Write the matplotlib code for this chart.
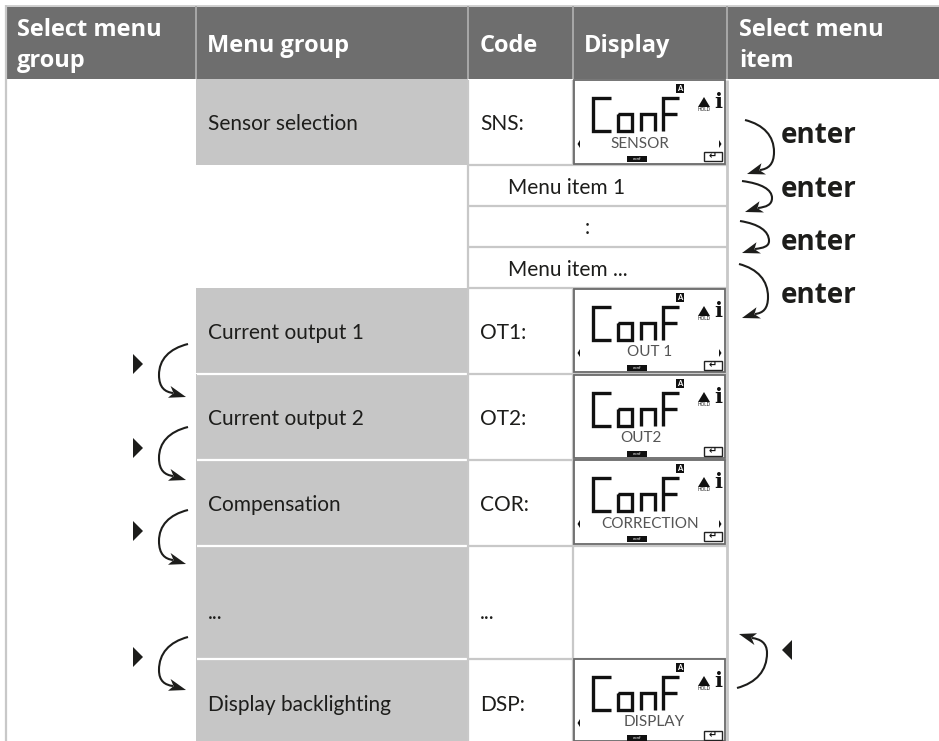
import matplotlib
matplotlib.use('Agg')
import matplotlib.pyplot as plt
from matplotlib.patches import Rectangle, Polygon, PathPatch
from matplotlib.path import Path
import numpy as np

# table content
headers = [(['Select menu', 'group'], 17), (['Menu group'], 207), (['Code'], 480), (['Display'], 584), (['Select menu', 'item'], 739)]
group_names = ['Sensor selection', 'Current output 1', 'Current output 2', 'Compensation', '...', 'Display backlighting']
group_codes = ['SNS:', 'OT1:', 'OT2:', 'COR:', '...', 'DSP:']
display_texts = ['SENSOR', 'OUT 1', 'OUT2', 'CORRECTION', None, 'DISPLAY']
display_arrows = [(True, True), (True, True), (False, False), (True, True), None, (True, False)]
menu_items = ['Menu item 1', ':', 'Menu item ...']

# row edges in pixels
group_tops = [80, 289, 375, 460, 546, 659]
group_bottoms = [165, 373, 459, 545, 658, 745]
label_base = [130, 339, 425, 511, 619, 711]
display_text_x = [640, 650, 641, 650, None, 654]
item_base = [194, 234, 276]
enter_base = [143, 197, 250, 303]

DARK = '#6e6e6e'
GROUP = '#c6c6c6'
LINE = '#c8c8c8'
INK = '#1d1d1b'

fig = plt.figure(figsize=(9.39, 7.41), dpi=100)
ax = fig.add_axes([0, 0, 1, 1])
ax.set_xlim(0, 939)
ax.set_ylim(741, 0)
ax.axis('off')
plt.rcParams['font.family'] = ['Lato', 'DejaVu Sans']


def vline(x, y0, y1, c=LINE, w=1.6):
    ax.plot([x, x], [y0, y1], color=c, lw=w, solid_capstyle='butt', zorder=3)


def hline(y, x0, x1, c=LINE, w=1.6):
    ax.plot([x0, x1], [y, y], color=c, lw=w, solid_capstyle='butt', zorder=3)


def curved_arrow(start, bulge, tip):
    # curve bends through the bulge point, head is drawn on the end
    start, bulge, tip = np.array(start, float), np.array(bulge, float), np.array(tip, float)
    side = np.sign(bulge[0] - start[0])
    down = np.sign(tip[1] - bulge[1])
    tail_end = tip + np.array([side * 13, -4 * down])
    up_len = start[1] - bulge[1]
    low_len = tail_end[1] - bulge[1]
    verts = [start, start + np.array([(bulge[0] - start[0]) * 0.65, -up_len * 0.15]),
             bulge + np.array([0, up_len * 0.5]), bulge,
             bulge + np.array([0, low_len * 0.7]), tail_end + np.array([side * 8, -down * 1]), tail_end]
    codes = [Path.MOVETO, Path.CURVE4, Path.CURVE4, Path.CURVE4, Path.CURVE4, Path.CURVE4, Path.CURVE4]
    ax.add_patch(PathPatch(Path(verts, codes), fc='none', ec=INK, lw=1.5, zorder=5))
    d = tail_end - tip
    d = d / np.linalg.norm(d)
    n = np.array([-d[1], d[0]])
    head = [tip, tip + d * 18 + n * 6, tip + d * 13, tip + d * 17 - n * 6]
    ax.add_patch(Polygon(head, closed=True, fc=INK, ec='none', zorder=5))


def triangle(x0, x1, yc):
    ax.add_patch(Polygon([(x0, yc - 10), (x1, yc), (x0, yc + 10)], closed=True, fc=INK, ec='none', zorder=5))


def seg(p, lw=2.4):
    xs, ys = zip(*p)
    ax.plot(xs, ys, color='#111111', lw=lw, solid_capstyle='butt', solid_joinstyle='miter', zorder=6)


def lcd(x0, y0, text, text_x, arrows, clip_bottom):
    # panel
    h = clip_bottom - y0
    ax.add_patch(Rectangle((x0, y0), 151, h, fc='white', ec='#6a6a6a', lw=1.3, zorder=4))
    # ConF in segments, offsets from panel corner
    t, m, b = y0 + 18, y0 + 34, y0 + 51
    seg([(x0 + 37, t), (x0 + 19, t), (x0 + 19, b), (x0 + 37, b)])
    seg([(x0 + 44, m), (x0 + 58, m), (x0 + 58, b), (x0 + 44, b), (x0 + 44, m)])
    seg([(x0 + 67, b), (x0 + 67, m), (x0 + 81, m), (x0 + 81, b)])
    seg([(x0 + 105, t), (x0 + 89, t), (x0 + 89, b)])
    seg([(x0 + 89, m), (x0 + 103, m)])
    # A badge
    ax.add_patch(Rectangle((x0 + 102, y0 + 4), 8, 9, fc='#111111', ec='none', zorder=6))
    ax.text(x0 + 106, y0 + 8.7, 'A', color='white', fontsize=5.5, fontweight='bold', ha='center', va='center', zorder=7)
    # warning triangle and info
    ax.add_patch(Polygon([(x0 + 124, y0 + 27), (x0 + 130, y0 + 17), (x0 + 136, y0 + 27)], closed=True, fc='#111111', ec='none', zorder=6))
    ax.text(x0 + 130, y0 + 29.5, 'HOLD', color='#222222', fontsize=3.4, ha='center', va='center', zorder=6)
    ax.text(x0 + 144, y0 + 22, 'i', color='#111111', fontsize=15, fontweight='bold', family='DejaVu Serif', ha='center', va='center', zorder=6)
    # lower line of the display
    ax.text(text_x, y0 + 63.5, text, color='#555555', fontsize=11, ha='center', va='center', zorder=6)
    if arrows[0]:
        ax.add_patch(Polygon([(x0 + 6, y0 + 60), (x0 + 3.5, y0 + 64), (x0 + 6, y0 + 68)], closed=True, fc='#111111', ec='none', zorder=6))
    if arrows[1]:
        ax.add_patch(Polygon([(x0 + 145, y0 + 60), (x0 + 147.5, y0 + 64), (x0 + 145, y0 + 68)], closed=True, fc='#111111', ec='none', zorder=6))
    # conf badge and return key
    ax.add_patch(Rectangle((x0 + 53, y0 + 76), 20, 6, fc='#111111', ec='none', zorder=6))
    ax.text(x0 + 63, y0 + 79, 'conf', color='white', fontsize=3.2, ha='center', va='center', zorder=7)
    ax.add_patch(Rectangle((x0 + 130, y0 + 72), 18, 9, fc='white', ec='#222222', lw=1, zorder=6))
    ax.text(x0 + 139, y0 + 76, '↵', color='#111111', fontsize=7, family='DejaVu Sans', fontweight='bold', ha='center', va='center', zorder=7)


# header band
ax.add_patch(Rectangle((5, 6), 934, 73, fc=DARK, ec='none', zorder=1))
hline(5.5, 5, 939, '#d0d0d0', 1.4)
vline(5.5, 5, 741)
for x in [196, 468, 573, 727]:
    vline(x, 6, 79, '#a8a8a8', 1.4)
for lines, x in headers:
    bases = [36, 67] if len(lines) == 2 else [52]
    for line, base in zip(lines, bases):
        ax.text(x, base, line, color='white', fontsize=17, fontweight='bold', family='Open Sans', ha='left',
                va='baseline', zorder=4)

# grey group cells
for top, bottom in zip(group_tops, group_bottoms):
    ax.add_patch(Rectangle((196, top - 1), 272, bottom - top + 1, fc=GROUP, ec='none', zorder=1))
for y in [373.5, 459.5, 545.5, 658.5]:
    hline(y, 197, 468, 'white', 1.6)

# rest of the grid
vline(468, 80, 741)
vline(573, 80, 165)
vline(573, 288, 741)
vline(727, 80, 741, LINE, 2)
for y in [165, 206, 247, 288, 373.5, 459.5, 545.5, 658.5]:
    hline(y, 468, 727)

# texts of the rows
for name, code, y in zip(group_names, group_codes, label_base):
    ax.text(208, y, name, color=INK, fontsize=15, ha='left', va='baseline', zorder=4)
    ax.text(480, y, code, color=INK, fontsize=15, ha='left', va='baseline', zorder=4)
for item, y in zip(menu_items, item_base):
    x = 587 if item == ':' else 508
    ax.text(x, y, item, color=INK, fontsize=15, ha='center' if item == ':' else 'left', va='baseline', zorder=4)

# LCD panels
for i, text in enumerate(display_texts):
    if text is None:
        continue
    lcd(574, group_tops[i], text, display_text_x[i], display_arrows[i], min(group_bottoms[i] - 1, 741))

# enter arrows on the right
curved_arrow((745, 120), (774, 152), (747, 174))
curved_arrow((742, 181), (772, 198), (745, 212))
curved_arrow((740, 221), (769, 241), (742, 253))
curved_arrow((739, 264), (768, 297), (742, 318))
for y in enter_base:
    ax.text(781, y, 'enter', color=INK, fontsize=20, fontweight='bold', family='Open Sans', ha='left', va='baseline', zorder=5)

# arrows for next group on the left
for start, bulge, tip, yc in [((188, 344), (159, 375), (186, 397), 364),
                              ((188, 427), (159, 458), (186, 480), 448),
                              ((188, 510), (159, 541), (186, 564), 531),
                              ((188, 637), (159, 670), (186, 690), 657)]:
    curved_arrow(start, bulge, tip)
    triangle(133, 143, yc)

# way back arrow bottom right
curved_arrow((737, 688), (767, 653), (739, 634))
triangle(792, 782, 650)

plt.savefig('out.png', dpi=100)
plt.close()
